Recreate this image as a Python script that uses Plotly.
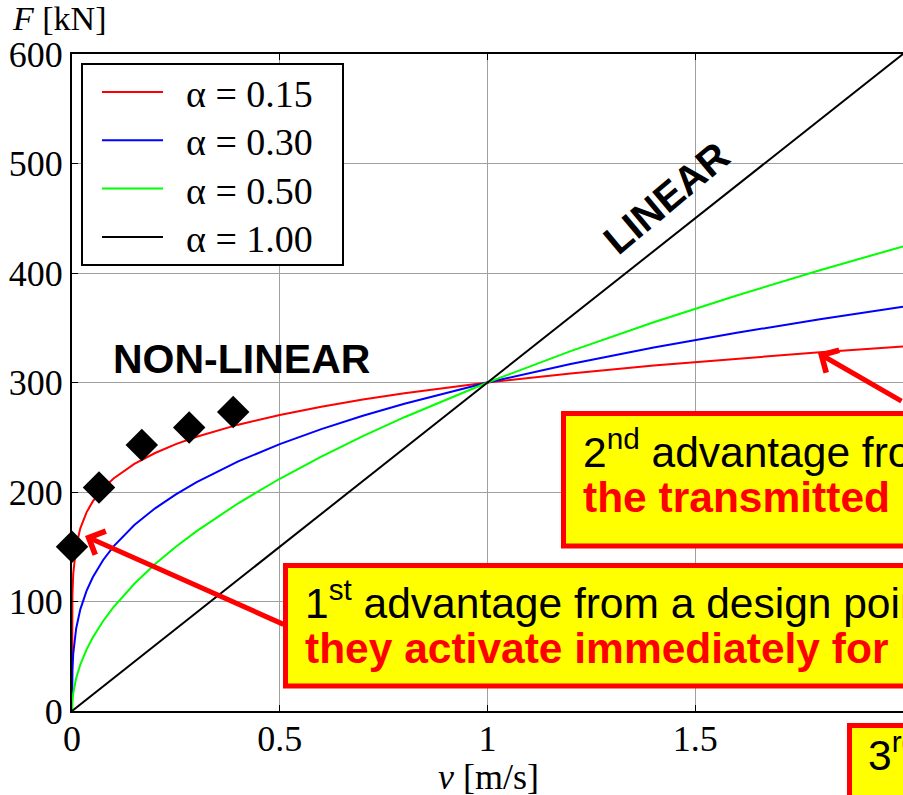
import plotly.graph_objects as go

# Damper force F [kN] vs. velocity v [m/s] for several damping exponents
v_curve = [0, 0.0001, 0.001, 0.003, 0.006, 0.01, 0.02, 0.035, 0.05, 0.075, 0.1,
           0.15, 0.2, 0.25, 0.3, 0.4, 0.5, 0.6, 0.7, 0.8, 1.0, 1.2, 1.4, 1.6, 1.8, 2.0]
F_alpha015 = [0, 75.4, 106.4, 125.5, 139.3, 150.4, 166.8, 181.4, 191.4, 203.4, 212.4,
              225.7, 235.6, 243.7, 250.4, 261.5, 270.4, 277.9, 284.4, 290.1, 300.0,
              308.3, 315.5, 321.9, 327.7, 332.9]
F_alpha030 = [0, 18.9, 37.8, 52.5, 64.7, 75.4, 92.8, 109.7, 122.1, 137.9, 150.4,
              169.8, 185.1, 197.9, 209.0, 227.9, 243.7, 257.4, 269.6, 280.6, 300.0,
              316.9, 331.9, 345.4, 357.8, 369.3]
F_alpha050 = [0, 3.0, 9.5, 16.4, 23.2, 30.0, 42.4, 56.1, 67.1, 82.2, 94.9,
              116.2, 134.2, 150.0, 164.3, 189.7, 212.1, 232.4, 251.0, 268.3, 300.0,
              328.6, 355.0, 379.5, 402.5, 424.3]
v_linear = [0, 2.0]
F_alpha100 = [0, 600.0]

# Design points (black diamonds)
v_design = [0.0, 0.065, 0.168, 0.282, 0.388]
F_design = [150, 204, 243, 259, 273]

series_names = ["α = 0.15", "α = 0.30", "α = 0.50", "α = 1.00"]
series_colors = ["#ff0000", "#0000ff", "#00ff00", "#000000"]

x_tickvals = [0, 0.5, 1, 1.5, 2]
x_ticktext = ["0", "0.5", "1", "1.5", ""]
y_tickvals = [0, 100, 200, 300, 400, 500, 600]

SERIF = "Liberation Serif, Times New Roman, serif"
SANS = "Liberation Sans, Arial, sans-serif"

# plot-area geometry in pixels (for placing overlays)
L, T, W, H = 72, 54, 831, 657


def px(xpix):
    return (xpix - L) / W


def py(ypix):
    return (T + H - ypix) / H


fig = go.Figure()

curves = [(v_curve, F_alpha015), (v_curve, F_alpha030), (v_curve, F_alpha050),
          (v_linear, F_alpha100)]
for (vx, fy), name, col in zip(curves, series_names, series_colors):
    fig.add_trace(go.Scatter(x=vx, y=fy, mode="lines", name=name,
                             line=dict(color=col, width=2), showlegend=False))

fig.add_trace(go.Scatter(x=v_design, y=F_design, mode="markers",
                         marker=dict(symbol="diamond", size=25, color="black"),
                         cliponaxis=False, showlegend=False))

shapes = []
annotations = []

# legend box
shapes.append(dict(type="rect", xref="paper", yref="paper",
                   x0=px(82), x1=px(343), y0=py(265), y1=py(64),
                   line=dict(color="black", width=2), fillcolor="white", layer="above"))
for i, (name, col) in enumerate(zip(series_names, series_colors)):
    yy = 92 + 48.3 * i
    shapes.append(dict(type="line", xref="paper", yref="paper",
                       x0=px(102), x1=px(163), y0=py(yy), y1=py(yy),
                       line=dict(color=col, width=2), layer="above"))
    annotations.append(dict(xref="paper", yref="paper", x=px(184), y=py(yy + 2),
                            xanchor="left", yanchor="middle", showarrow=False,
                            text=name, font=dict(family=SERIF, size=38, color="black")))

# callout boxes
box_style = dict(type="rect", xref="paper", yref="paper",
                 line=dict(color="#ff0000", width=5), fillcolor="#ffff00", layer="above")
shapes.append(dict(box_style, x0=px(285.5), x1=px(1000), y0=py(686), y1=py(565.5)))
shapes.append(dict(box_style, x0=px(563.5), x1=px(1000), y0=py(546), y1=py(413.5)))
shapes.append(dict(box_style, x0=px(849.5), x1=px(1000), y0=py(900), y1=py(725.5)))


def box_text(xpix, ypix, text, bold_red=False):
    font = dict(family=SANS, size=42.5, color="#ff0000" if bold_red else "black")
    annotations.append(dict(xref="paper", yref="paper", x=px(xpix), y=py(ypix),
                            xanchor="left", yanchor="middle", showarrow=False,
                            text="<b>%s</b>" % text if bold_red else text, font=font))


box_text(303, 600, "1<sup>st</sup> advantage from a design point of view:")
box_text(303, 648, "they activate immediately for", bold_red=True)
box_text(581, 449, "2<sup>nd</sup> advantage from a design point of view:")
box_text(581, 497, "the transmitted", bold_red=True)
box_text(866, 752, "3<sup>rd</sup> advantage from a design point of view:")

# arrows from the callouts to the curves
annotations.append(dict(xref="x", yref="y", x=0.0313, y=159.8, ax=200, ay=89,
                        showarrow=True, arrowhead=4, arrowsize=1, arrowwidth=5,
                        arrowcolor="#ff0000", text=""))
annotations.append(dict(xref="x", yref="y", x=1.7954, y=326.9, ax=140, ay=49,
                        showarrow=True, arrowhead=4, arrowsize=1, arrowwidth=5,
                        arrowcolor="#ff0000", text=""))

# region labels
annotations.append(dict(xref="paper", yref="paper", x=px(241), y=py(359),
                        xanchor="center", yanchor="middle",
                        showarrow=False, text="<b>NON-LINEAR</b>",
                        font=dict(family=SANS, size=41, color="black")))
annotations.append(dict(xref="paper", yref="paper", x=px(666), y=py(198),
                        xanchor="center", yanchor="middle",
                        showarrow=False, text="<b>LINEAR</b>", textangle=-40,
                        font=dict(family=SANS, size=40, color="black")))

# axis titles
annotations.append(dict(xref="paper", yref="paper", x=px(10), y=py(18),
                        xanchor="left", yanchor="middle", showarrow=False,
                        text="<i>F</i> [kN]", font=dict(family=SERIF, size=34, color="black")))
annotations.append(dict(xref="paper", yref="paper", x=px(488), y=py(777),
                        xanchor="center", yanchor="middle", showarrow=False,
                        text="<i>v</i> [m/s]", font=dict(family=SERIF, size=36, color="black")))

fig.update_layout(
    width=903, height=795,
    margin=dict(l=L, r=903 - L - W, t=T, b=795 - T - H, pad=0),
    paper_bgcolor="white", plot_bgcolor="white",
    shapes=shapes, annotations=annotations,
    font=dict(family=SERIF, size=36, color="black"),
)
fig.update_xaxes(range=[0, 2], tickvals=x_tickvals, ticktext=x_ticktext,
                 showgrid=True, gridcolor="#a0a0a0", gridwidth=1,
                 showline=True, linecolor="black", linewidth=2, mirror="ticks",
                 ticks="inside", ticklen=6, tickcolor="black", tickwidth=1,
                 ticklabelstandoff=-5,
                 zeroline=False, tickfont=dict(family=SERIF, size=36, color="black"))
fig.update_yaxes(range=[0, 600], tickvals=y_tickvals,
                 showgrid=True, gridcolor="#a0a0a0", gridwidth=1,
                 showline=True, linecolor="black", linewidth=2, mirror=False,
                 ticks="inside", ticklen=6, tickcolor="black", tickwidth=1,
                 zeroline=False, tickfont=dict(family=SERIF, size=36, color="black"))

fig.write_html("out.html")
